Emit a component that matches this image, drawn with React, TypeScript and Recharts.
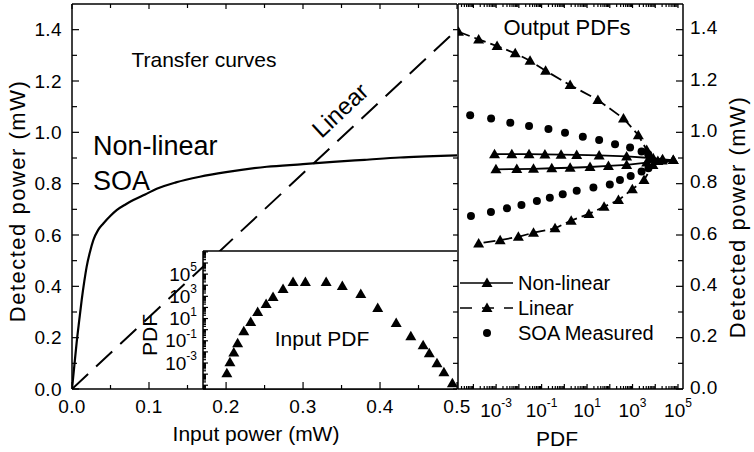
import React from 'react';
import { ComposedChart, Line, Scatter, XAxis, YAxis, CartesianGrid, Legend } from 'recharts';

const FONT = '"Liberation Sans", Arial, Helvetica, sans-serif';
const W = 754;
const H = 452;

// transfer curves (input power -> detected power, mW)
const soaInput = [0, 0.003, 0.006, 0.0095, 0.0126, 0.016, 0.019, 0.023, 0.0277, 0.034, 0.0407, 0.05, 0.058, 0.07, 0.0797, 0.095, 0.11, 0.135, 0.166, 0.2, 0.253, 0.3, 0.339, 0.38, 0.426, 0.46, 0.5];
const soaOutput = [0, 0.09, 0.18, 0.27, 0.347, 0.42, 0.476, 0.53, 0.58, 0.62, 0.645, 0.675, 0.697, 0.72, 0.736, 0.758, 0.78, 0.805, 0.827, 0.845, 0.866, 0.876, 0.885, 0.893, 0.902, 0.906, 0.91];
const linInput = [0, 0.5];
const linOutput = [0, 1.4];

// input PDF (inset)
const inputPower = [0.201, 0.205, 0.21, 0.215, 0.223, 0.232, 0.241, 0.252, 0.261, 0.274, 0.287, 0.303, 0.33, 0.351, 0.375, 0.397, 0.421, 0.44, 0.456, 0.464, 0.474, 0.483, 0.494];
const inputPdf = [1.2e-4, 1.2e-3, 9e-3, 6e-2, 0.72, 4.8, 38, 200, 850, 4500, 1.9e4, 1.9e4, 1.9e4, 8300, 1600, 87, 3.9, 0.26, 0.04, 7.6e-3, 9.5e-4, 1.5e-4, 1.5e-5];

// output PDFs: linear receiver
const linPdf = [2.2e-5, 1.7e-4, 1.1e-3, 6.9e-3, 3.1e-2, 0.15, 1.8, 30, 400, 1800, 4200, 8100, 2e4, 6.2e4, 7900, 3200, 980, 240, 56, 12, 2, 0.39, 0.044, 9.5e-3, 1.5e-3, 1.7e-4];
const linPower = [1.392, 1.362, 1.336, 1.308, 1.279, 1.24, 1.184, 1.126, 1.054, 0.989, 0.931, 0.899, 0.89, 0.892, 0.873, 0.814, 0.778, 0.736, 0.71, 0.682, 0.656, 0.626, 0.609, 0.593, 0.58, 0.567];

// output PDFs: non-linear (SOA model)
const nlPdf = [8.5e-4, 4.9e-3, 2.8e-2, 0.14, 0.72, 3.5, 34, 550, 5900, 2.1e4, 6.2e4, 1.3e4, 4200, 550, 87, 13.5, 1.8, 0.28, 0.044, 8.1e-3, 9.8e-4];
const nlPower = [0.915, 0.915, 0.915, 0.914, 0.913, 0.912, 0.91, 0.906, 0.9, 0.895, 0.892, 0.888, 0.882, 0.873, 0.869, 0.865, 0.862, 0.86, 0.858, 0.857, 0.856];

// output PDFs: SOA measured
const soaPdf = [7.2e-5, 6e-4, 4.2e-3, 2.8e-2, 0.2, 1.07, 6.5, 34, 170, 780, 2500, 4900, 7.8e-5, 5.9e-4, 3e-3, 1.3e-2, 6.2e-2, 0.23, 0.85, 3.5, 19, 100, 280, 830, 2500, 5000];
const soaPower = [1.067, 1.054, 1.037, 1.025, 1.013, 0.998, 0.983, 0.97, 0.954, 0.941, 0.925, 0.915, 0.674, 0.69, 0.704, 0.717, 0.732, 0.745, 0.759, 0.772, 0.785, 0.797, 0.814, 0.83, 0.847, 0.86];

// axes
const powerTicks = [0, 0.1, 0.2, 0.3, 0.4, 0.5, 0.6, 0.7, 0.8, 0.9, 1.0, 1.1, 1.2, 1.3, 1.4];
const powerLabels = ['0.0', '0.2', '0.4', '0.6', '0.8', '1.0', '1.2', '1.4'];
const inputTicks = [0, 0.05, 0.1, 0.15, 0.2, 0.25, 0.3, 0.35, 0.4, 0.45, 0.5];
const inputLabels = ['0.0', '0.1', '0.2', '0.3', '0.4', '0.5'];
const pdfLabelExps = [-3, -1, 1, 3, 5];
const outPdfDomain = [2.1e-5, 1.66e5];
const inPdfDomain = [4.6e-6, 1.2e7];
const insetInputDomain = [0.17, 0.5];
const legendNames = ['Non-linear', 'Linear', 'SOA Measured'];

const zip = (xs: number[], ys: number[]) => xs.map((x, i) => ({ x, y: ys[i] }));
const soaCurve = zip(soaInput, soaOutput);
const linCurve = zip(linInput, linOutput);
const inputPoints = zip(inputPower, inputPdf);
const linPoints = zip(linPdf, linPower);
const nlPoints = zip(nlPdf, nlPower);
const soaPoints = zip(soaPdf, soaPower);

const near = (a: number, b: number) => Math.abs(a - b) <= 1e-6 * Math.abs(b) + 1e-12;

// log axis ticks: every integer multiple inside each decade
const logTicks = (lo: number, hi: number) => {
  const out: number[] = [];
  for (let e = Math.floor(Math.log10(lo)); e <= Math.ceil(Math.log10(hi)); e++) {
    for (let k = 1; k <= 9; k++) {
      const v = k * Math.pow(10, e);
      if (v >= lo && v <= hi) out.push(v);
    }
  }
  return out;
};
const isDecade = (v: number) => near(v, Math.pow(10, Math.round(Math.log10(v))));
const pow10Label = (v: number) => {
  const e = Math.round(Math.log10(v));
  if (!isDecade(v) || !pdfLabelExps.includes(e)) return null;
  return (
    <>
      10<tspan dy={-7} fontSize={12}>{e}</tspan>
    </>
  );
};
const linLabel = (labels: string[]) => (v: number) => {
  const s = labels.find((l) => near(v, parseFloat(l)));
  return s ?? null;
};
const isLabelled = (labels: string[]) => (v: number) => labels.some((l) => near(v, parseFloat(l)));

type TickSpec = {
  dx: number;
  dy: number;
  long: (v: number) => boolean;
  major?: number;
  minor?: number;
  text?: (v: number) => React.ReactNode;
  tx?: number;
  ty?: number;
  anchor?: 'start' | 'middle' | 'end';
  spacing?: number;
};

const tickRenderer = (s: TickSpec) => (props: any) => {
  const { x, y, payload } = props;
  const v = payload.value;
  const len = s.long(v) ? s.major ?? 6 : s.minor ?? 4;
  const label = s.text ? s.text(v) : null;
  return (
    <g>
      <line x1={x} y1={y} x2={x + s.dx * len} y2={y + s.dy * len} stroke="#000" strokeWidth={1.2} />
      {label != null && (
        <text
          x={x + (s.tx ?? 0)}
          y={y + (s.ty ?? 0)}
          textAnchor={s.anchor ?? 'middle'}
          dominantBaseline="central"
          fontFamily={FONT}
          fontSize={19}
          letterSpacing={s.spacing ?? 0.4}
          fill="#000"
        >
          {label}
        </text>
      )}
    </g>
  );
};

const axisLine = { stroke: '#000', strokeWidth: 1.5 };
const bare = { tickSize: 0, tickMargin: 0, tickLine: false, interval: 0 as const, allowDataOverflow: true, axisLine };

const Triangle = (props: any) => {
  const { cx, cy } = props;
  if (cx == null || cy == null) return null;
  return <polygon points={`${cx},${cy - 5.5} ${cx - 5.5},${cy + 4} ${cx + 5.5},${cy + 4}`} fill="#000" />;
};
const Dot = (props: any) => {
  const { cx, cy } = props;
  if (cx == null || cy == null) return null;
  return <circle cx={cx} cy={cy} r={4} fill="#000" />;
};

const textStyle = { fontFamily: FONT, fill: '#000' };

const LegendBox = () => (
  <svg width={230} height={80} style={{ overflow: 'visible' }}>
    <line x1={5} y1={15} x2={58} y2={15} stroke="#000" strokeWidth={1.5} />
    <Triangle cx={32} cy={15} />
    <line x1={5} y1={40} x2={58} y2={40} stroke="#000" strokeWidth={1.5} strokeDasharray="12 10" />
    <Triangle cx={32} cy={40} />
    <Dot cx={32} cy={65} />
    {legendNames.map((n, i) => (
      <text key={n} x={63} y={15 + i * 25} dominantBaseline="central" fontSize={20} {...textStyle}>
        {n}
      </text>
    ))}
  </svg>
);

const layer: React.CSSProperties = { position: 'absolute', left: 0, top: 0 };

export default function App() {
  return (
    <div style={{ position: 'absolute', left: 0, top: 0, width: W, height: H, background: '#fff' }}>
      {/* transfer curves */}
      <div style={layer}>
        <ComposedChart width={W} height={H} margin={{ top: 3, right: 297, bottom: 33, left: 12 }}>
          <XAxis
            xAxisId="b"
            type="number"
            dataKey="x"
            domain={[0, 0.5]}
            ticks={inputTicks}
            height={30}
            {...bare}
            tick={tickRenderer({ dx: 0, dy: -1, long: isLabelled(inputLabels), major: 7, minor: 4, text: linLabel(inputLabels), ty: 17 })}
          />
          <XAxis
            xAxisId="t"
            orientation="top"
            type="number"
            dataKey="x"
            domain={[0, 0.5]}
            ticks={inputTicks}
            height={1}
            {...bare}
            tick={tickRenderer({ dx: 0, dy: 1, long: isLabelled(inputLabels), major: 5, minor: 4 })}
          />
          <YAxis
            yAxisId="l"
            type="number"
            domain={[0, 1.5]}
            ticks={powerTicks}
            width={60}
            {...bare}
            tick={tickRenderer({ dx: 1, dy: 0, long: isLabelled(powerLabels), major: 7, minor: 5, text: linLabel(powerLabels), tx: -10, anchor: 'end' })}
          />
          <Line xAxisId="b" yAxisId="l" data={linCurve} dataKey="y" type="linear" stroke="#000" strokeWidth={2} strokeDasharray="22 11" dot={false} isAnimationActive={false} />
          <Line xAxisId="b" yAxisId="l" data={soaCurve} dataKey="y" type="monotoneX" stroke="#000" strokeWidth={2.2} dot={false} isAnimationActive={false} />
          <text x={204} y={59} textAnchor="middle" dominantBaseline="central" fontSize={21} {...textStyle}>Transfer curves</text>
          <text x={93} y={155} fontSize={27} {...textStyle}>Non-linear</text>
          <text x={93} y={190} fontSize={27} {...textStyle}>SOA</text>
          <text x={340} y={110} textAnchor="middle" dominantBaseline="central" fontSize={24} transform="rotate(-43 340 110)" {...textStyle}>Linear</text>
          <text x={256} y={433} textAnchor="middle" dominantBaseline="central" fontSize={21} {...textStyle}>Input power (mW)</text>
          <text x={17} y={201} textAnchor="middle" dominantBaseline="central" fontSize={22} letterSpacing={1.5} transform="rotate(-90 17 201)" {...textStyle}>Detected power (mW)</text>
        </ComposedChart>
      </div>

      {/* input PDF inset */}
      <div style={layer}>
        <ComposedChart width={W} height={H} margin={{ top: 250, right: 297, bottom: 33, left: 163 }}>
          <CartesianGrid fill="#fff" horizontal={false} vertical={false} />
          <XAxis
            type="number"
            dataKey="x"
            domain={insetInputDomain}
            ticks={inputTicks.filter((t) => t >= insetInputDomain[0])}
            height={30}
            {...bare}
            tick={tickRenderer({ dx: 0, dy: -1, long: isLabelled(inputLabels), major: 7, minor: 4 })}
          />
          <XAxis xAxisId="top" orientation="top" type="number" dataKey="x" domain={insetInputDomain} height={1} {...bare} tick={false} />
          <YAxis
            type="number"
            dataKey="y"
            scale="log"
            domain={inPdfDomain}
            ticks={logTicks(inPdfDomain[0], inPdfDomain[1])}
            width={40}
            {...bare}
            tick={tickRenderer({ dx: 1, dy: 0, long: isDecade, major: 5, minor: 3, text: pow10Label, tx: -6, anchor: 'end', spacing: 0 })}
          />
          <Scatter data={inputPoints} shape={<Triangle />} isAnimationActive={false} />
          <text x={322} y={338} textAnchor="middle" dominantBaseline="central" fontSize={21} {...textStyle}>Input PDF</text>
          <text x={149} y={335} textAnchor="middle" dominantBaseline="central" fontSize={21} transform="rotate(-90 149 335)" {...textStyle}>PDF</text>
        </ComposedChart>
      </div>

      {/* output PDFs */}
      <div style={layer}>
        <ComposedChart width={W} height={H} margin={{ top: 3, right: 11, bottom: 33, left: 457 }}>
          <XAxis
            xAxisId="b"
            type="number"
            dataKey="x"
            scale="log"
            domain={outPdfDomain}
            ticks={logTicks(outPdfDomain[0], outPdfDomain[1])}
            height={30}
            {...bare}
            tick={tickRenderer({ dx: 0, dy: -1, long: isDecade, major: 5, minor: 3, text: pow10Label, ty: 21, spacing: 0 })}
          />
          <XAxis
            xAxisId="t"
            orientation="top"
            type="number"
            dataKey="x"
            scale="log"
            domain={outPdfDomain}
            ticks={logTicks(outPdfDomain[0], outPdfDomain[1])}
            height={1}
            {...bare}
            tick={tickRenderer({ dx: 0, dy: 1, long: isDecade, major: 4, minor: 3 })}
          />
          <YAxis
            yAxisId="l"
            type="number"
            domain={[0, 1.5]}
            ticks={powerTicks}
            width={1}
            {...bare}
            tick={tickRenderer({ dx: -1, dy: 0, long: isLabelled(powerLabels), major: 5, minor: 5 })}
          />
          <YAxis
            yAxisId="r"
            orientation="right"
            type="number"
            dataKey="y"
            domain={[0, 1.5]}
            ticks={powerTicks}
            width={60}
            {...bare}
            tick={tickRenderer({ dx: -1, dy: 0, long: isLabelled(powerLabels), major: 7, minor: 5, text: linLabel(powerLabels), tx: 7, ty: -2, anchor: 'start' })}
          />
          <Scatter xAxisId="b" yAxisId="r" data={soaPoints} shape={<Dot />} isAnimationActive={false} />
          <Scatter
            xAxisId="b"
            yAxisId="r"
            data={linPoints}
            shape={<Triangle />}
            line={{ stroke: '#000', strokeWidth: 1.8, strokeDasharray: '12 5' }}
            lineType="joint"
            isAnimationActive={false}
          />
          <Scatter
            xAxisId="b"
            yAxisId="r"
            data={nlPoints}
            shape={<Triangle />}
            line={{ stroke: '#000', strokeWidth: 1.8 }}
            lineType="joint"
            isAnimationActive={false}
          />
          <Legend layout="vertical" align="center" verticalAlign="middle" wrapperStyle={{ left: 455, top: 268, width: 230, height: 80 }} content={() => <LegendBox />} />
          <text x={567} y={27} textAnchor="middle" dominantBaseline="central" fontSize={22} {...textStyle}>Output PDFs</text>
          <text x={557} y={438} textAnchor="middle" dominantBaseline="central" fontSize={21} {...textStyle}>PDF</text>
          <text x={737} y={217} textAnchor="middle" dominantBaseline="central" fontSize={22} letterSpacing={1.5} transform="rotate(-90 737 217)" {...textStyle}>Detected power (mW)</text>
        </ComposedChart>
      </div>
    </div>
  );
}
